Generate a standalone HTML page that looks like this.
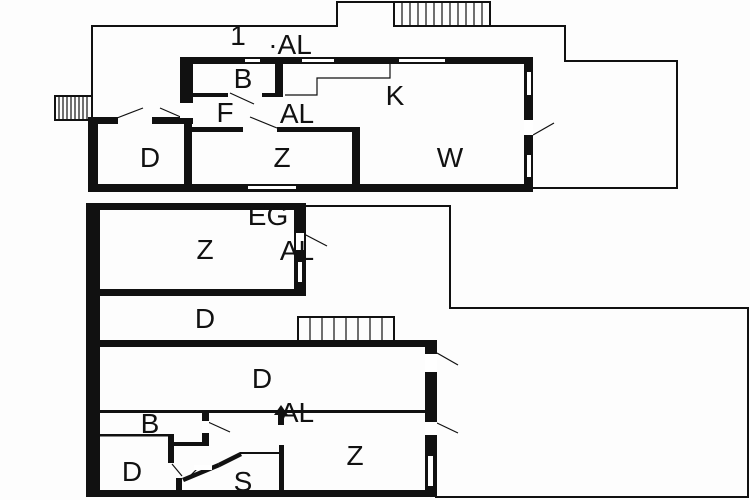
<!DOCTYPE html>
<html><head><meta charset="utf-8"><style>
html,body{margin:0;padding:0;background:#fff}
svg{display:block}
text{font-family:"Liberation Sans",sans-serif;font-size:28px;fill:#111;text-anchor:middle}
</style></head><body>
<svg width="750" height="500" viewBox="0 0 750 500" xmlns="http://www.w3.org/2000/svg">
<rect width="750" height="500" fill="#fdfdfd"/>
<g fill="none" stroke="#111" stroke-width="2">
<polyline points="92,120 92,26 337,26 337,2 394,2 394,26 565,26 565,61 677,61 677,188 530,188"/>
<rect x="394" y="2" width="96" height="24"/>
<polyline points="305,206 450,206 450,308 748,308 748,497 435,497"/>
<rect x="298" y="317" width="96" height="24"/>
<rect x="55" y="96" width="37" height="24"/>
</g>
<g stroke="#111" stroke-width="1.2">
<line x1="402" y1="2" x2="402" y2="26"/><line x1="410" y1="2" x2="410" y2="26"/><line x1="418" y1="2" x2="418" y2="26"/><line x1="426" y1="2" x2="426" y2="26"/><line x1="434" y1="2" x2="434" y2="26"/><line x1="442" y1="2" x2="442" y2="26"/><line x1="450" y1="2" x2="450" y2="26"/><line x1="458" y1="2" x2="458" y2="26"/><line x1="466" y1="2" x2="466" y2="26"/><line x1="474" y1="2" x2="474" y2="26"/><line x1="482" y1="2" x2="482" y2="26"/>
<line x1="59" y1="96" x2="59" y2="120"/><line x1="63" y1="96" x2="63" y2="120"/><line x1="67" y1="96" x2="67" y2="120"/><line x1="71" y1="96" x2="71" y2="120"/><line x1="75" y1="96" x2="75" y2="120"/><line x1="79" y1="96" x2="79" y2="120"/><line x1="83" y1="96" x2="83" y2="120"/><line x1="87" y1="96" x2="87" y2="120"/>
<line x1="310" y1="317" x2="310" y2="341"/><line x1="322" y1="317" x2="322" y2="341"/><line x1="334" y1="317" x2="334" y2="341"/><line x1="346" y1="317" x2="346" y2="341"/><line x1="358" y1="317" x2="358" y2="341"/><line x1="370" y1="317" x2="370" y2="341"/><line x1="382" y1="317" x2="382" y2="341"/>
<line x1="117" y1="118" x2="143" y2="108"/><line x1="160" y1="108" x2="183" y2="118"/>
<line x1="230" y1="93" x2="254" y2="104"/><line x1="250" y1="117" x2="277" y2="128"/>
<line x1="533" y1="135" x2="554" y2="123"/>
<line x1="304" y1="234" x2="327" y2="246"/><line x1="437" y1="353" x2="458" y2="365"/>
<line x1="437" y1="423" x2="458" y2="433"/><line x1="208" y1="422" x2="230" y2="432"/>
<line x1="172" y1="464" x2="182" y2="476"/><line x1="190" y1="476" x2="200" y2="466"/>
<polyline fill="none" points="285,95 317,95 317,78 390,78 390,63"/>
</g>
<g fill="#111">
<rect x="180" y="57" width="353" height="7"/>
<rect x="180" y="57" width="13" height="46"/>
<rect x="275" y="64" width="8" height="33"/>
<rect x="193" y="93" width="35" height="4"/><rect x="262" y="93" width="21" height="4"/>
<rect x="524" y="57" width="9" height="135"/>
<rect x="88" y="117" width="30" height="7"/><rect x="152" y="117" width="41" height="7"/>
<rect x="88" y="117" width="10" height="75"/>
<rect x="184" y="117" width="8" height="75"/>
<rect x="88" y="184" width="445" height="8"/>
<rect x="190" y="127" width="53" height="5"/><rect x="277" y="127" width="83" height="5"/>
<rect x="352" y="127" width="8" height="62"/>
<rect x="86" y="203" width="14" height="294"/>
<rect x="86" y="203" width="220" height="7"/>
<rect x="294" y="203" width="12" height="92"/>
<rect x="86" y="289" width="220" height="7"/>
<rect x="86" y="340" width="351" height="7"/>
<rect x="425" y="340" width="12" height="157"/>
<rect x="86" y="490" width="351" height="7"/>
<rect x="100" y="410" width="326" height="3"/>
<rect x="202" y="412" width="7" height="33"/>
<rect x="100" y="434" width="72" height="2.5"/>
<rect x="168" y="434" width="6" height="29"/>
<rect x="170" y="442" width="39" height="4"/>
<rect x="176" y="478" width="6" height="19"/>
<rect x="279" y="445" width="5" height="52"/>
<rect x="278" y="413" width="6" height="12"/>
<polygon points="281,405 274,415 288,415"/>
<polygon points="182,478 218,463 220,467 184,482"/>
<polygon points="218,463 240,452 242,456 220,467"/>
<rect x="240" y="452" width="40" height="2"/>
</g>
<g fill="#fff">
<rect x="245" y="59" width="15" height="3"/><rect x="302" y="59" width="32" height="3"/><rect x="399" y="59" width="46" height="3"/>
<rect x="527" y="72" width="4" height="23"/><rect x="524" y="120" width="9" height="15"/><rect x="527" y="155" width="4" height="22"/>
<rect x="180" y="103" width="13" height="15"/>
<rect x="248" y="186" width="48" height="3"/>
<rect x="296" y="233" width="8" height="17"/><rect x="298" y="262" width="4" height="20"/>
<rect x="425" y="354" width="12" height="18"/><rect x="425" y="422" width="12" height="13"/><rect x="428" y="456" width="5" height="30"/>
<rect x="202" y="421" width="7" height="12"/>
<rect x="194" y="465" width="18" height="5"/>
</g>
<text x="238" y="45">1</text>
<text x="290" y="54">·AL</text>
<text x="243" y="88">B</text>
<text x="395" y="105">K</text>
<text x="225" y="122">F</text>
<text x="297" y="123">AL</text>
<text x="150" y="167">D</text>
<text x="282" y="167">Z</text>
<text x="450" y="167">W</text>
<text x="268" y="225">EG</text>
<text x="205" y="259">Z</text>
<text x="297" y="260">AL</text>
<text x="205" y="328">D</text>
<text x="262" y="388">D</text>
<text x="297" y="422">AL</text>
<text x="150" y="433">B</text>
<text x="355" y="465">Z</text>
<text x="132" y="481">D</text>
<text x="243" y="491">S</text>
</svg>
</body></html>
